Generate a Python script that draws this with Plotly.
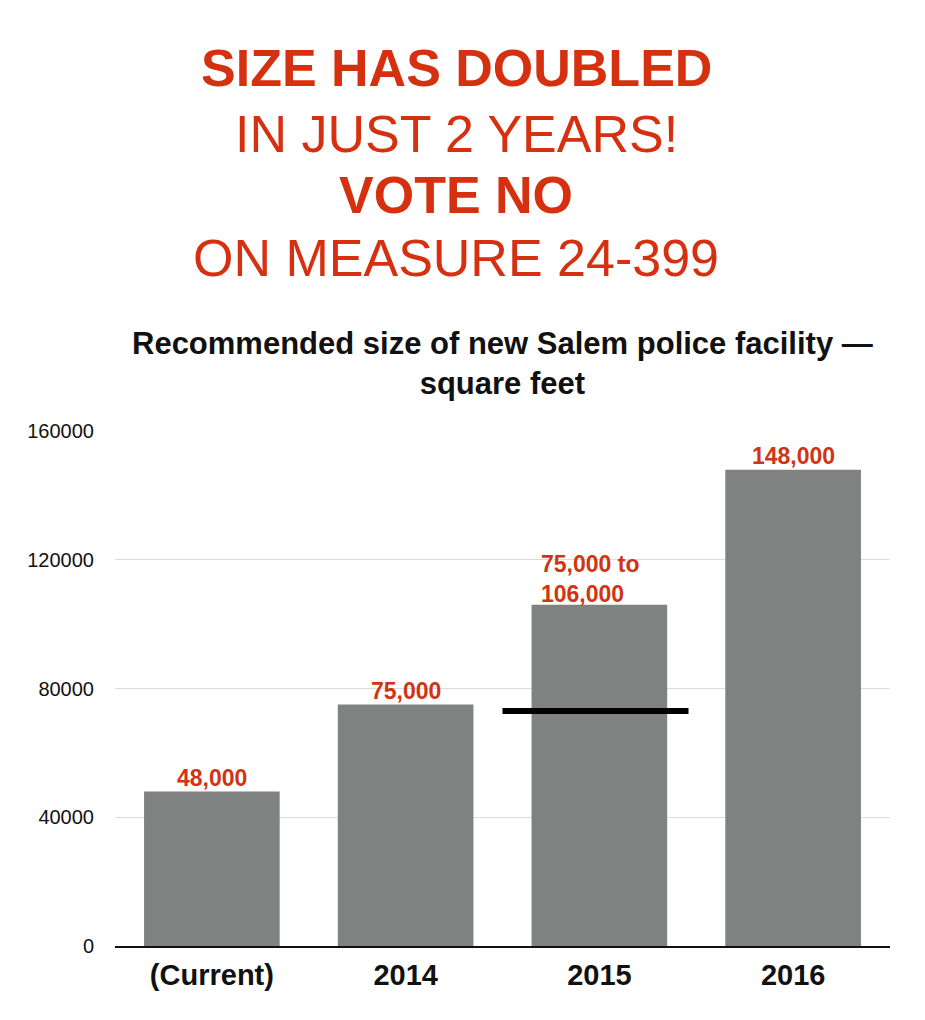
import plotly.graph_objects as go

categories = ["(Current)", "2014", "2015", "2016"]
sizes = [48000, 75000, 106000, 148000]
bar_labels = ["48,000", "75,000", "75,000 to<br>106,000", "148,000"]
low_estimate_2015 = 73000
y_ticks = [0, 40000, 80000, 120000, 160000]

headline = ["<b>SIZE HAS DOUBLED</b>", "IN JUST 2 YEARS!", "<b>VOTE NO</b>", "ON MEASURE 24-399"]
subtitle = "<b>Recommended size of new Salem police facility —<br>square feet</b>"

FONT = "Liberation Sans, Arial, Helvetica, sans-serif"
RED = "#d5300f"
LABEL_RED = "#cf3413"
GREY = "#7f8281"

# page has 8px body margin; figure sized to fit the window
OFF = 8
W, H = 917, 1012
L, R, T, B = 107, 35, 423, 74
PH = H - T - B
PW = W - L - R

def py(pix):
    # pix: vertical position in the screenshot
    return (H - B - (pix - OFF)) / PH

def px(pix):
    return ((pix - OFF) - L) / PW

fig = go.Figure()
fig.add_trace(go.Bar(
    x=categories, y=sizes, marker=dict(color=GREY, line=dict(width=0)),
    width=0.7, hoverinfo="skip",
))

annotations = []
for i, (v, lab) in enumerate(zip(sizes, bar_labels)):
    multi = "<br>" in lab
    annotations.append(dict(
        x=i, y=v, xref="x", yref="y", text="<b>%s</b>" % lab, showarrow=False,
        yanchor="bottom", xanchor="center", align="left" if multi else "center",
        xshift=-9 if multi else 0, yshift=-4 if multi else -1,
        font=dict(family=FONT, size=23, color=LABEL_RED),
    ))

line_centers = [68, 134, 195, 258]
for txt, cy in zip(headline, line_centers):
    annotations.append(dict(
        x=px(456), y=py(cy), xref="paper", yref="paper", text=txt,
        showarrow=False, xanchor="center", yanchor="middle",
        font=dict(family=FONT, size=52, color=RED),
    ))

annotations.append(dict(
    x=px(502), y=py(363), xref="paper", yref="paper", text=subtitle,
    showarrow=False, xanchor="center", yanchor="middle", align="center",
    font=dict(family=FONT, size=31, color="#111111"),
))

fig.add_shape(type="line", xref="x", yref="y", x0=1.5, x1=2.46,
              y0=low_estimate_2015, y1=low_estimate_2015,
              line=dict(color="black", width=6))

fig.update_layout(
    width=W, height=H, margin=dict(l=L, r=R, t=T, b=B),
    paper_bgcolor="white", plot_bgcolor="white", showlegend=False,
    annotations=annotations, bargap=0.3,
    font=dict(family=FONT),
)
fig.update_xaxes(
    type="category", showgrid=False, showline=True, linecolor="#111111", linewidth=2,
    tickfont=dict(family=FONT, size=29, color="#111111", weight="bold"),
    ticks="", ticklabelstandoff=2, range=[-0.5, 3.5],
)
fig.update_yaxes(
    range=[0, 160000], tickvals=y_ticks, ticktext=[str(v) for v in y_ticks],
    showgrid=True, gridcolor="#dcdcdc", gridwidth=1, zeroline=False,
    tickfont=dict(family=FONT, size=20, color="#111111"),
    ticks="", ticklabelstandoff=20, showline=False,
)

fig.write_html("out.html")
